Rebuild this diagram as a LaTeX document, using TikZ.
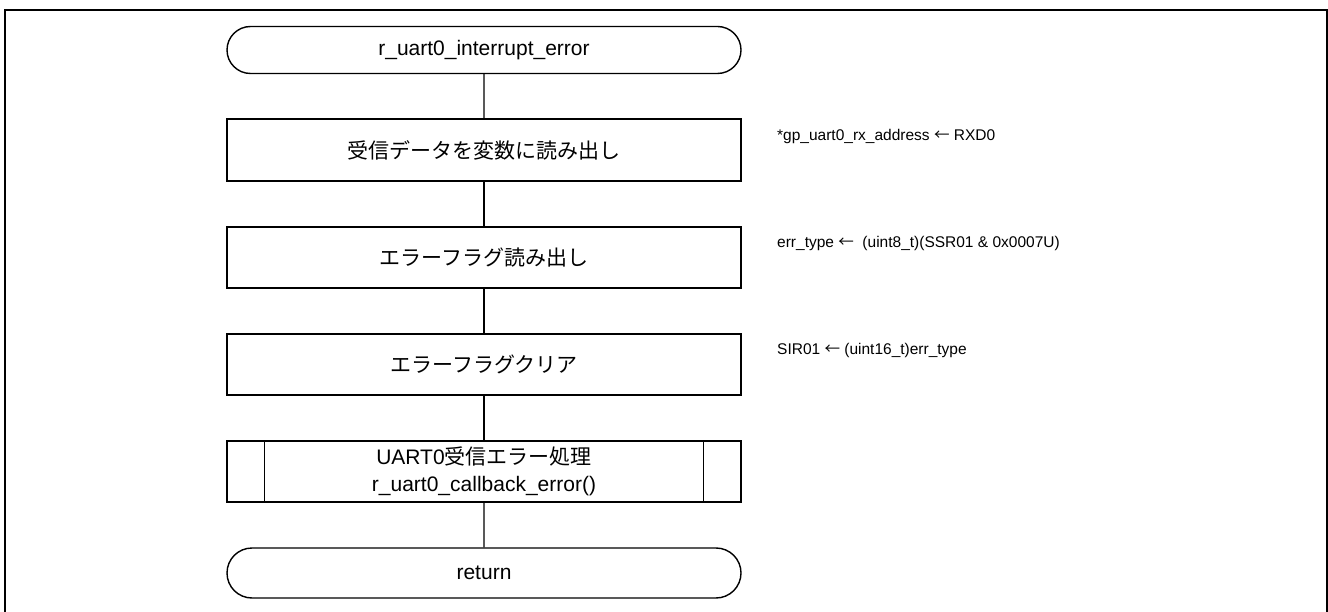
\documentclass[tikz,border=0pt]{standalone}
\usepackage{fontspec}
\setmainfont{Liberation Sans}
\newfontfamily\cjk{Noto Sans CJK JP}
\usetikzlibrary{shapes.misc}
\newcommand{\larr}{{\cjk ←}}
\tikzset{
  term/.style={rounded rectangle, draw, line width=1.4pt, minimum width=514pt, minimum height=47pt, inner sep=0pt, font=\fontsize{21}{25}\selectfont},
  procbox/.style={rectangle, draw, line width=1.4pt, minimum width=514pt, minimum height=61pt, inner sep=0pt, font=\fontsize{21}{25}\selectfont},
  subbox/.style={procbox, align=center, font=\fontsize{21}{27}\selectfont},
  ann/.style={anchor=west, inner sep=0pt, font=\fontsize{15.5}{18}\selectfont},
  conn/.style={line width=1.4pt}
}
\begin{document}
\begin{tikzpicture}[x=1pt,y=-1pt]
\useasboundingbox (0,0) rectangle (1328,612);
\draw[line width=2pt] (5,612) -- (5,10) -- (1327,10) -- (1327,612);

\node[term] (start) at (484,50) {r\_uart0\_interrupt\_error};
\node[procbox, minimum height=62pt] (b1) at (484,150) {{\cjk 受信データを変数に読み出し}};
\node[procbox] (b2) at (484,257.5) {{\cjk エラーフラグ読み出し}};
\node[procbox] (b3) at (484,364.5) {{\cjk エラーフラグクリア}};
\node[subbox] (sub) at (484,471.5) {UART0{\cjk 受信エラー処理}\\r\_uart0\_callback\_error()};
\node[term, minimum height=50pt] (ret) at (484,573) {return};

\draw[line width=1.4pt] ([xshift=38pt]sub.north west) -- ([xshift=38pt]sub.south west);
\draw[line width=1.4pt] ([xshift=-38pt]sub.north east) -- ([xshift=-38pt]sub.south east);

\draw[conn] (start) -- (b1);
\draw[conn] (b1) -- (b2);
\draw[conn] (b2) -- (b3);
\draw[conn] (b3) -- (sub);
\draw[conn] (sub) -- (ret);

\node[ann] (a1) at (777,136) {*gp\_uart0\_rx\_address \larr{} RXD0};
\node[ann] (a2) at (777,243) {err\_type \larr{}\ \ (uint8\_t)(SSR01 \& 0x0007U)};
\node[ann] (a3) at (777,350) {SIR01 \larr{} (uint16\_t)err\_type};
\end{tikzpicture}
\end{document}
